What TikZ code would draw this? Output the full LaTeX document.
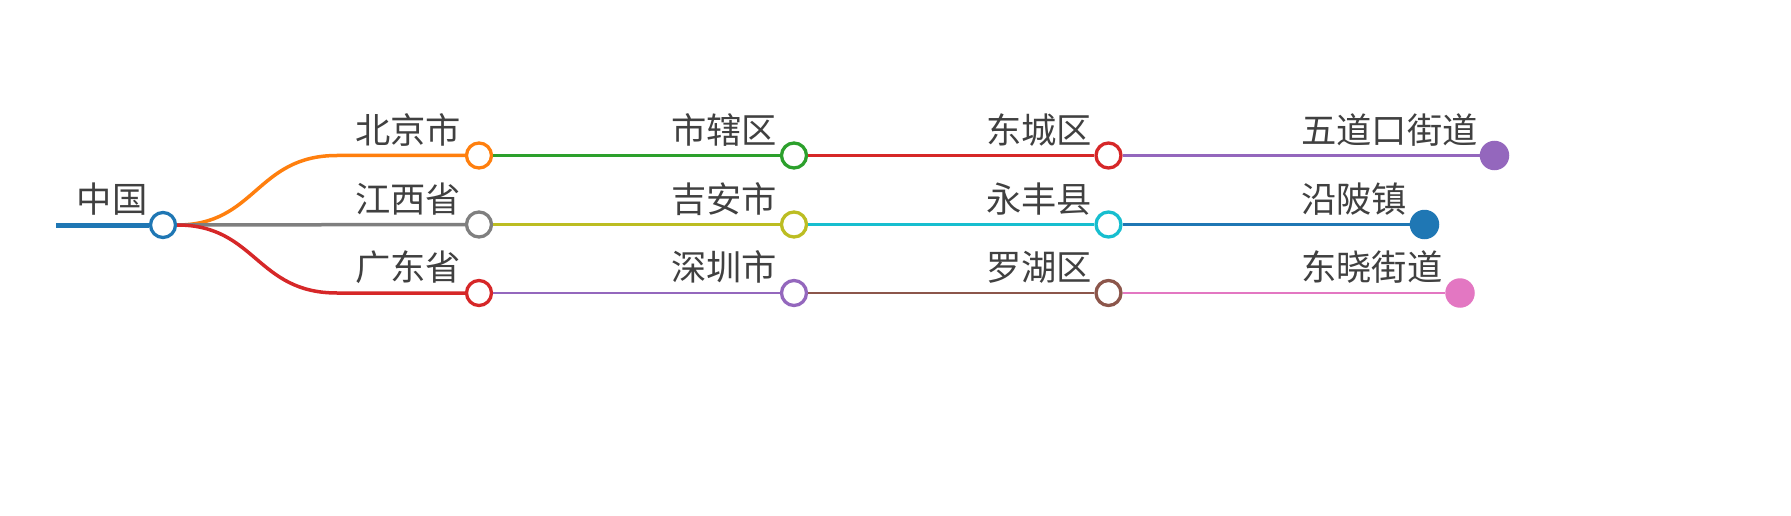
\documentclass[tikz,border=0pt]{standalone}
\usepackage{fontspec}
\setmainfont{Noto Sans CJK SC}
\newfontfamily\cjk{Noto Sans CJK SC}
\definecolor{cblue}{HTML}{1F77B4}
\definecolor{corange}{HTML}{FF7F0E}
\definecolor{cgreen}{HTML}{2CA02C}
\definecolor{cred}{HTML}{D62728}
\definecolor{cpurple}{HTML}{9467BD}
\definecolor{cbrown}{HTML}{8C564B}
\definecolor{cpink}{HTML}{E377C2}
\definecolor{cgray}{HTML}{7F7F7F}
\definecolor{colive}{HTML}{BCBD22}
\definecolor{ccyan}{HTML}{17BECF}
\definecolor{ctext}{HTML}{404040}
\begin{document}
\begin{tikzpicture}[x=1pt,y=-1pt,
  pt/.style={circle,draw=#1,fill=white,line width=3.3pt,minimum size=25pt,inner sep=0pt},
  leaf/.style={circle,fill=#1,draw=none,minimum size=29.5pt,inner sep=0pt},
  lbl/.style={anchor=base west,inner sep=0pt,text=ctext,font=\cjk\fontsize{35.3}{40}\selectfont},
  e1/.style={draw=#1,line width=3.5pt},
  e2/.style={draw=#1,line width=2.6pt}]
\useasboundingbox (0,0) rectangle (1791,516);
% nodes
\node[pt=cblue] (cn) at (163,225) {};
\node[pt=corange] (bj) at (479,155.5) {};
\node[pt=cgray] (jx) at (479,224.5) {};
\node[pt=cred] (gd) at (479,293) {};
\node[pt=cgreen] (sx) at (794,155.5) {};
\node[pt=colive] (ja) at (794,224.5) {};
\node[pt=cpurple] (sz) at (794,293) {};
\node[pt=cred] (dc) at (1108.5,155.5) {};
\node[pt=ccyan] (yf) at (1108.5,224.5) {};
\node[pt=cbrown] (lh) at (1108.5,293) {};
\node[leaf=cpurple] (wd) at (1494.5,155.5) {};
\node[leaf=cblue] (yb) at (1424.5,224.5) {};
\node[leaf=cpink] (dx) at (1460,293) {};
\coordinate (start) at (56,225);
\coordinate (k1) at (337,155.5);
\coordinate (k3) at (337,293);
% edges
\draw[draw=cblue,line width=5pt] (start) -- (cn);
\draw[e1=corange] (cn.east) .. controls (256,225) and (256,155.5) .. (k1) -- (bj);
\draw[e1=cgray] (cn) -- (jx);
\draw[e1=cred] (cn.east) .. controls (256,225) and (256,293) .. (k3) -- (gd);
\draw[e2=cgreen] (bj) -- (sx);
\draw[e2=colive] (jx) -- (ja);
\draw[e2=cpurple] (gd) -- (sz);
\draw[e2=cred] (sx) -- (dc);
\draw[e2=ccyan] (ja) -- (yf);
\draw[e2=cbrown] (sz) -- (lh);
\draw[e2=cpurple] (dc) -- (wd);
\draw[e2=cblue] (yf) -- (yb);
\draw[e2=cpink] (lh) -- (dx);
% labels
\node[lbl] (tcn) at (76.5,212.5) {中国};
\node[lbl] (tbj) at (355,143) {北京市};
\node[lbl] (tjx) at (355,212) {江西省};
\node[lbl] (tgd) at (355,280.5) {广东省};
\node[lbl] (tsx) at (671,143) {市辖区};
\node[lbl] (tja) at (671,212) {吉安市};
\node[lbl] (tsz) at (671,280.5) {深圳市};
\node[lbl] (tdc) at (986,143) {东城区};
\node[lbl] (tyf) at (986,212) {永丰县};
\node[lbl] (tlh) at (986,280.5) {罗湖区};
\node[lbl] (twd) at (1301,143) {五道口街道};
\node[lbl] (tyb) at (1301,212) {沿陂镇};
\node[lbl] (tdx) at (1301,280.5) {东晓街道};
\end{tikzpicture}
\end{document}
